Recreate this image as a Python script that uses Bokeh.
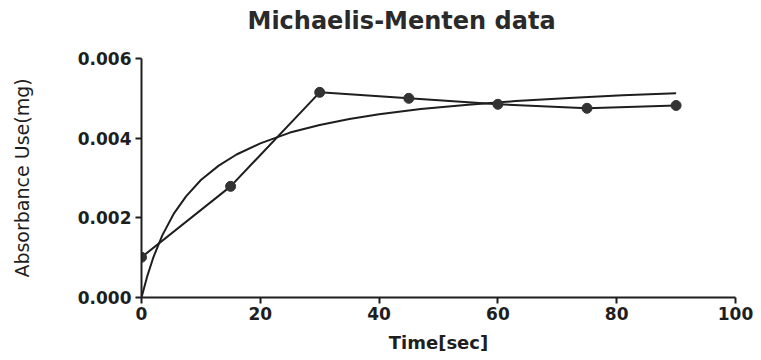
from bokeh.plotting import figure
from bokeh.models import Range1d, FixedTicker, Title
from bokeh.embed import file_html
from bokeh.resources import INLINE

# measured data
time_sec = [0, 15, 30, 45, 60, 75, 90]
absorbance = [0.00101, 0.00279, 0.00515, 0.00500, 0.00485, 0.00475, 0.00482]

# fitted curve
fit_time = [0, 1, 2, 3.5, 5.5, 7.5, 10, 13, 16, 20, 25, 30, 35, 40, 47, 55, 63, 72, 81, 90]
fit_abs = [0.0, 0.00055, 0.00101, 0.00156, 0.00212, 0.00254, 0.00295, 0.00331, 0.00359,
           0.00387, 0.00414, 0.00433, 0.00448, 0.00460, 0.00473, 0.00484, 0.00493,
           0.00501, 0.00508, 0.00513]

x_ticks = [0, 20, 40, 60, 80, 100]
y_ticks = [0.0, 0.002, 0.004, 0.006]
y_tick_labels = {0.0: "0.000", 0.002: "0.002", 0.004: "0.004", 0.006: "0.006"}

FONT = "DejaVu Sans"
INK = "#1e1e1e"

p = figure(width=753, height=356, output_backend="svg", toolbar_location=None,
           x_range=Range1d(0, 100), y_range=Range1d(0, 0.006),
           min_border_left=141, min_border_right=18, min_border_top=58, min_border_bottom=59)
p.title = None
# blank spacer between title and plot area
spacer = Title(text=" ", text_font=FONT, text_font_size="17px", standoff=0)
p.add_layout(spacer, "above")
t = Title(text="Michaelis-Menten data", align="left", offset=106,
          text_font=FONT, text_font_size="24px", text_font_style="bold",
          text_color="#2a2a2a", standoff=4)
p.add_layout(t, "above")

p.outline_line_color = None
p.xgrid.visible = False
p.ygrid.visible = False
p.background_fill_color = "white"

for ax in (p.xaxis[0], p.yaxis[0]):
    ax.axis_line_width = 2
    ax.axis_line_color = INK
    ax.major_tick_line_width = 2
    ax.major_tick_line_color = INK
    ax.major_tick_out = 6
    ax.major_tick_in = 0
    ax.minor_tick_line_color = None
    ax.major_label_text_font = FONT
    ax.major_label_text_font_style = "bold"
    ax.major_label_text_font_size = "17px"
    ax.major_label_text_color = INK

p.xaxis.ticker = FixedTicker(ticks=x_ticks)
p.yaxis.ticker = FixedTicker(ticks=y_ticks)
p.yaxis.major_label_overrides = y_tick_labels
p.xaxis.major_label_standoff = 3
p.yaxis.major_label_standoff = 4

p.xaxis.axis_label = "Time[sec]"
p.xaxis.axis_label_text_font = FONT
p.xaxis.axis_label_text_font_style = "bold"
p.xaxis.axis_label_text_font_size = "18px"
p.xaxis.axis_label_text_color = INK
p.xaxis.axis_label_standoff = 9

p.yaxis.axis_label = "Absorbance Use(mg)"
p.yaxis.axis_label_text_font = FONT
p.yaxis.axis_label_text_font_style = "normal"
p.yaxis.axis_label_text_font_size = "19px"
p.yaxis.axis_label_text_color = INK
p.yaxis.axis_label_standoff = 42

p.line(fit_time, fit_abs, line_color=INK, line_width=2)
p.line(time_sec, absorbance, line_color=INK, line_width=2)
p.scatter(time_sec, absorbance, size=10, marker="circle",
          fill_color="#333333", line_color="#333333")

open("out.html", "w").write(file_html(p, INLINE))
